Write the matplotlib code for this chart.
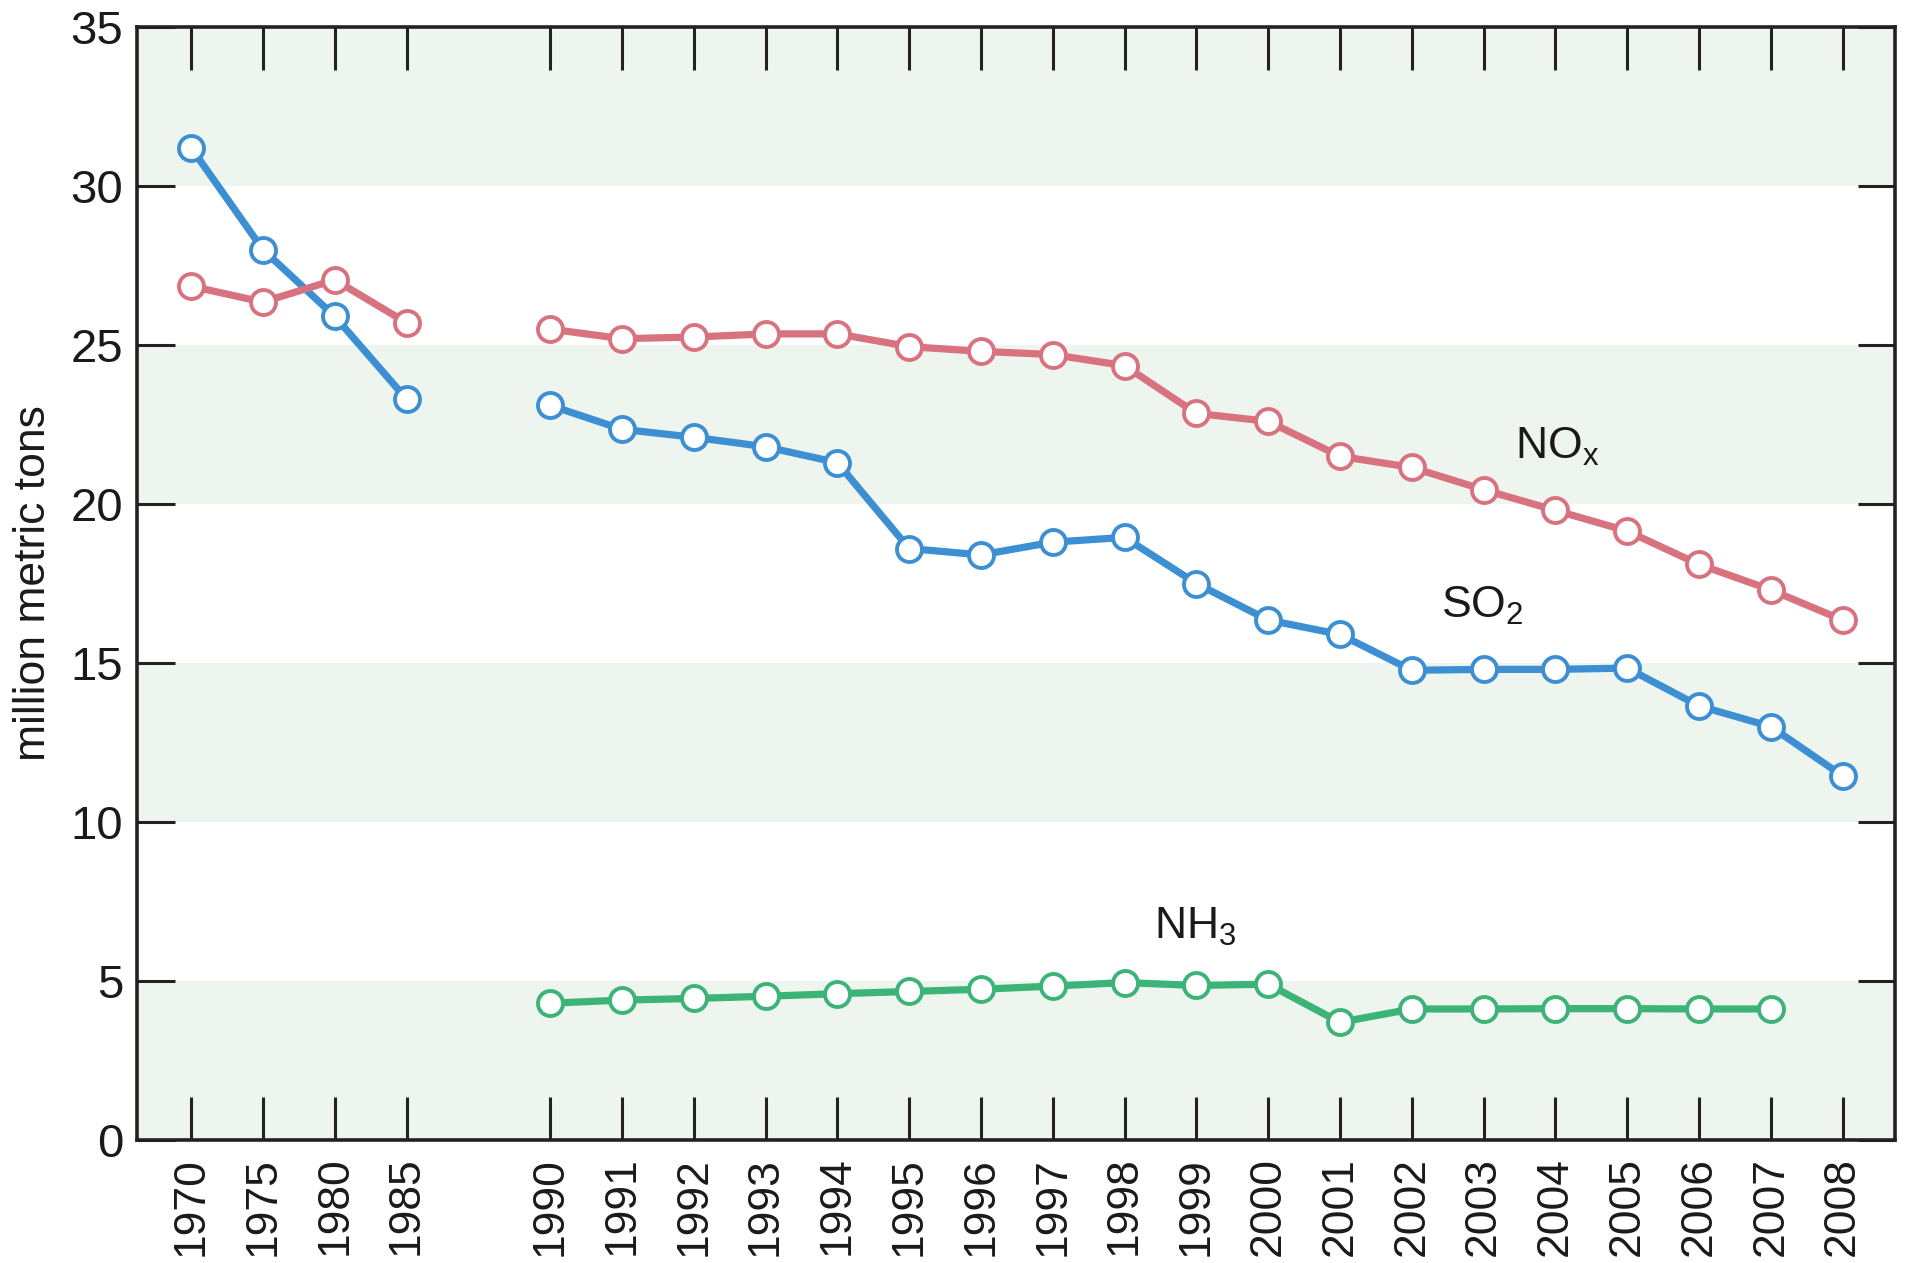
import matplotlib
matplotlib.use("Agg")
import matplotlib.pyplot as plt

plt.rcParams["font.family"] = ["Liberation Sans", "DejaVu Sans"]

# --- data (million metric tons) ---
years = ["1970", "1975", "1980", "1985",
         "1990", "1991", "1992", "1993", "1994", "1995", "1996", "1997", "1998",
         "1999", "2000", "2001", "2002", "2003", "2004", "2005", "2006", "2007", "2008"]
# slot index on the axis (one empty slot between 1985 and 1990)
slots = [0, 1, 2, 3] + list(range(5, 24))

so2_early = [31.2, 28.0, 25.9, 23.3]
so2_late = [23.1, 22.35, 22.1, 21.8, 21.3, 18.6, 18.4, 18.8, 18.95, 17.5,
            16.35, 15.9, 14.77, 14.8, 14.8, 14.84, 13.65, 13.0, 11.45]
nox_early = [26.85, 26.35, 27.05, 25.7]
nox_late = [25.5, 25.2, 25.25, 25.35, 25.35, 24.95, 24.8, 24.7, 24.35, 22.85,
            22.6, 21.5, 21.15, 20.45, 19.8, 19.15, 18.1, 17.3, 16.35]
nh3_late = [4.3, 4.4, 4.45, 4.52, 4.6, 4.67, 4.74, 4.84, 4.95, 4.86,
            4.9, 3.7, 4.12, 4.12, 4.13, 4.13, 4.12, 4.12]

BLUE = "#3d8fd3"
PINK = "#d9727f"
GREEN = "#3cb477"
BAND = "#edf5ee"

fig = plt.figure(figsize=(19.07, 12.63), dpi=100)
ax = fig.add_axes([0.072, 0.0974, 0.9217, 0.8812])

# alternating horizontal bands
for lo in (0, 10, 20, 30):
    ax.axhspan(lo, lo + 5, color=BAND, lw=0, zorder=0)

style = dict(lw=5.2, marker="o", ms=18, mfc="white", mew=2.8, zorder=3)
ax.plot(slots[:4], so2_early, color=BLUE, **style)
ax.plot(slots[4:], so2_late, color=BLUE, **style)
ax.plot(slots[:4], nox_early, color=PINK, **style)
ax.plot(slots[4:], nox_late, color=PINK, **style)
ax.plot(slots[4:-1], nh3_late, color=GREEN, **style)

lab = dict(fontsize=32, ha="center", va="center", color="#1a1a1a")
ax.text(19.03, 21.8, r"NO$_\mathregular{x}$", **lab)
ax.text(17.98, 16.8, r"SO$_\mathregular{2}$", **lab)
ax.text(13.98, 6.7, r"NH$_\mathregular{3}$", **lab)

ax.set_xlim(-0.75, 23.73)
ax.set_ylim(0, 35)
ax.set_xticks(slots)
ax.set_xticklabels(years, rotation=90)
ax.set_yticks(range(0, 36, 5))

ax.tick_params(axis="x", direction="in", length=31, width=2.2, top=True,
               labelsize=32, pad=12, color="#222222", labelcolor="#1a1a1a")
ax.tick_params(axis="y", direction="in", length=27, width=2.2, right=True,
               labelsize=34, pad=10, color="#222222", labelcolor="#1a1a1a")
for s in ax.spines.values():
    s.set_linewidth(2.6)
    s.set_color("#222222")

ax.set_ylabel("million metric tons", fontsize=32, labelpad=12, color="#1a1a1a")

fig.savefig("out.png", dpi=100)
